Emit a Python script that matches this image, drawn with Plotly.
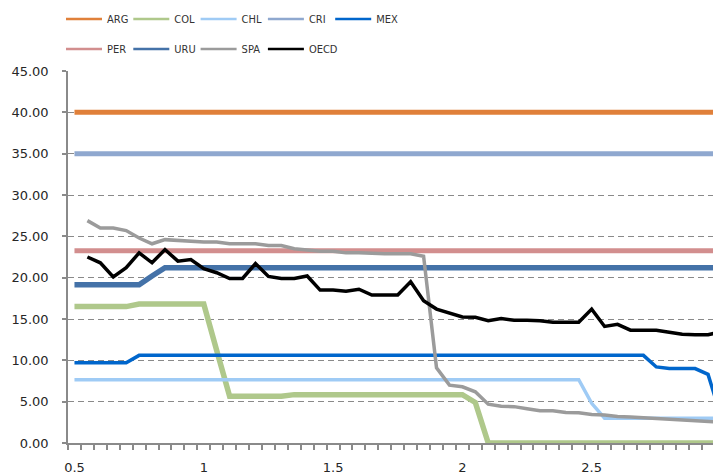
import plotly.graph_objects as go

# categories: 0.5 .. 3.0 step 0.05 (51 points)
x_vals = [round(0.5 + 0.05 * i, 2) for i in range(51)]
x_tick_vals = [0.5, 1, 1.5, 2, 2.5, 3]
x_tick_text = ["0.5", "1", "1.5", "2", "2.5", "3"]
y_tick_vals = [0, 5, 10, 15, 20, 25, 30, 35, 40, 45]

ARG = [40.0] * 51
CRI = [35.0] * 51
PER = [23.25] * 51
URU = [19.15] * 6 + [20.2] + [21.2] * 44
COL = ([16.5] * 5 + [16.8] * 6 + [11.2] + [5.65] * 5 + [5.85] * 14
       + [4.9] + [0.0] * 19)
CHL = [7.65] * 40 + [4.8] + [3.0] * 10
MEX = ([9.7] * 5 + [10.6] * 40 + [9.2, 9.0, 9.0, 9.0, 8.3, 3.2])
SPA = [None, 26.9, 26.0, 26.0, 25.7, 24.8, 24.1, 24.6, 24.5, 24.3, 24.3,
       24.3, 24.1, 24.1, 24.1, 23.9, 23.9, 23.5, 23.3, 23.2, 23.2,
       23.0, 23.0, 22.9, 22.9, 22.9, 22.9, 22.6, 9.1, 7.0, 6.8,
       6.2, 4.7, 4.45, 4.4, 4.15, 3.9, 3.9, 3.7, 3.65, 3.45,
       3.4, 3.2, 3.15, 3.05, 3.0, 2.9, 2.8, 2.75, 2.55, 2.5]
OECD = [None, 22.5, 21.8, 20.1, 21.2, 23.0, 21.8, 23.4, 22.0, 22.2, 21.1,
        20.6, 19.9, 19.9, 21.7, 20.15, 19.9, 19.9, 20.2, 18.5, 18.5,
        18.35, 18.6, 17.9, 17.9, 17.9, 19.5, 17.2, 16.2, 15.7, 15.25,
        15.2, 14.8, 15.05, 14.85, 14.85, 14.8, 14.6, 14.6, 14.6, 16.2,
        14.1, 14.35, 13.65, 13.65, 13.65, 13.4, 13.15, 13.1, 13.1, 13.45]

series_names = ["ARG", "COL", "CHL", "CRI", "MEX", "PER", "URU", "SPA", "OECD"]
series_values = [ARG, COL, CHL, CRI, MEX, PER, URU, SPA, OECD]
series_colors = ["#E0803A", "#AFC88B", "#9FCBF5", "#8FA8CF", "#0066CC",
                 "#D28E8E", "#4472A8", "#9B9B9B", "#000000"]
series_widths = [5, 5.5, 3.5, 5, 3.5, 5, 5.5, 3.5, 3.5]
# legend layout: (row, column)
legend_slots = [(0, 0), (0, 1), (0, 2), (0, 3), (0, 4),
                (1, 0), (1, 1), (1, 2), (1, 3)]

fig = go.Figure()
for name, vals, color, w in zip(series_names, series_values, series_colors, series_widths):
    fig.add_trace(go.Scatter(
        x=x_vals, y=vals, name=name, mode="lines", showlegend=False,
        line=dict(color=color, width=w), connectgaps=False,
    ))

axis_grey = "#8A8A8A"
legend_font = dict(family="Liberation Sans Narrow, Arial Narrow, DejaVu Sans Condensed",
                   size=11, color="#333333")

W, H = 721, 475
legends = {}
for k, (name, color, (row, col)) in enumerate(zip(series_names, series_colors, legend_slots)):
    lg = "legend" if k == 0 else f"legend{k + 1}"
    fig.add_trace(go.Scatter(
        x=[None], y=[None], name=name, mode="lines", legend=lg,
        line=dict(color=color, width=2.5), showlegend=True,
    ))
    legends[lg] = dict(
        orientation="h", xref="container", yref="container",
        x=(53 + 67.3 * col) / W, y=1 - (11 + 30 * row) / H,
        xanchor="left", yanchor="middle", font=legend_font,
        bgcolor="rgba(0,0,0,0)", borderwidth=0, itemwidth=36,
    )

fig.update_layout(
    width=W, height=H,
    margin=dict(l=60, r=0, t=63, b=40, autoexpand=False),
    paper_bgcolor="white", plot_bgcolor="white",
    showlegend=True,
    xaxis=dict(
        range=[0.475, 3.031], tickmode="array", tickvals=x_tick_vals,
        ticktext=x_tick_text, ticks="", showgrid=False, zeroline=False,
        showline=True, linecolor=axis_grey, linewidth=1.5,
        tickfont=dict(family="DejaVu Sans", size=13, color="#262626"),
        ticklabelstandoff=12,
        minor=dict(tick0=0.475, dtick=0.05, ticks="outside", ticklen=5,
                   tickcolor=axis_grey, tickwidth=1.5, showgrid=False),
    ),
    yaxis=dict(
        range=[0, 45], tickmode="array", tickvals=y_tick_vals,
        tickformat=".2f", ticks="outside", ticklen=4, tickcolor=axis_grey,
        tickwidth=1.5, showline=True, linecolor=axis_grey, linewidth=1.5,
        showgrid=True, gridcolor=axis_grey, gridwidth=1.3, griddash="6px,4px",
        zeroline=False,
        tickfont=dict(family="DejaVu Sans", size=13, color="#262626"),
        ticklabelstandoff=11,
    ),
    **legends,
)

fig.write_html("out.html")
